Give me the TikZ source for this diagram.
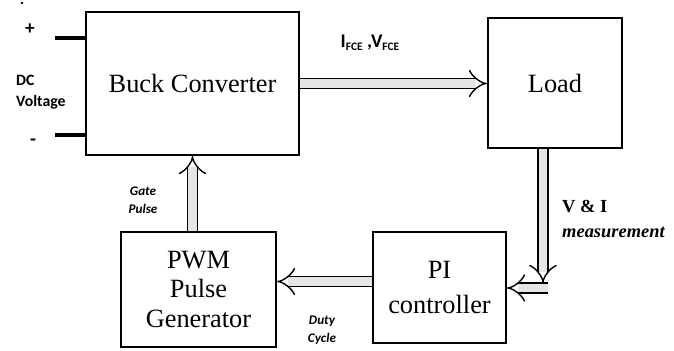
\documentclass[tikz,border=0pt]{standalone}
\usepackage{fontspec}
\setmainfont{Liberation Serif}
\setsansfont{Carlito}
\usepackage{tikz}
\usetikzlibrary{calc,positioning,arrows.meta}

\newcommand{\lowsub}[1]{\raisebox{-1.8pt}{\fontsize{6.5}{7}\selectfont #1}}

\tikzset{
  block/.style={draw, line width=1.2pt, inner sep=0pt, align=center, font=\fontsize{15}{17}\selectfont},
  flow/.style={draw=black, line width=0.8pt, double=gray!20, double distance=4.8pt, -{Implies}},
  term/.style={line width=2pt},
  tag/.style={font=\sffamily\bfseries\fontsize{9}{10}\selectfont, align=left},
  slant/.style={font=\sffamily\bfseries\itshape\fontsize{7.5}{10.5}\selectfont, align=center},
}

\begin{document}
\begin{tikzpicture}[x=0.02cm, y=-0.02cm]
        \useasboundingbox (0,0) rectangle (674,351);

        % Blocks
        \node[block, minimum width=4.26cm, minimum height=2.86cm] (buck) at (192.5,83.5) {Buck Converter};
        \node[block, minimum width=2.68cm, minimum height=2.6cm] (load) at (555,83) {Load};
        \node[block, minimum width=3.1cm, minimum height=2.3cm] (pwm) at (198.5,289.5) {PWM\\Pulse\\Generator};
        \node[block, minimum width=2.66cm, minimum height=2.22cm] (pi) at (439.5,287.5) {PI\\[3pt]controller};

        % DC input terminals
        \coordinate (vplus) at (55,38);
        \coordinate (vminus) at (55,135);
        \draw[term] (vplus) -- (vplus -| buck.west);
        \draw[term] (vminus) -- (vminus -| buck.west);
        \node[tag, font=\sffamily\bfseries\fontsize{11}{12}\selectfont] (plus) at (30,29) {+};
        \node[tag, anchor=west] (dc) at (10,92) {DC\\[2pt]Voltage};
        \node[tag, font=\sffamily\bfseries\fontsize{11}{12}\selectfont] (minus) at (33,142) {-};
        \fill (22,3) circle (0.8pt);

        % Signal flow
        \draw[flow] (buck.east) -- (load.west |- buck.east);
        \coordinate (meas) at (543,283);
        \draw[flow] (load.south -| meas) -- (meas);
        \coordinate (corner) at (548,288);
        \draw[flow] (corner) -- (pi.east |- corner);
        \coordinate (dutyin) at ($(pi.west)+(0,-6)$);
        \draw[flow] (dutyin) -- (pwm.east |- dutyin);
        \draw[flow] (pwm.north -| buck.south) -- (buck.south);

        % Signal labels
        \node[tag, font=\sffamily\bfseries\fontsize{11}{12}\selectfont] (ivfce) at (370,43) {I\lowsub{FCE} ,V\lowsub{FCE}};
        \node[anchor=west, font=\bfseries\fontsize{10.5}{12}\selectfont] (vandi) at (556,207) {V \& I};
        \node[anchor=west, font=\bfseries\itshape\fontsize{10.5}{12}\selectfont] (meastxt) at (556,232) {measurement};
        \node[slant] (gate) at (143,200) {Gate\\Pulse};
        \node[slant] (duty) at (322,330) {Duty\\Cycle};

    \end{tikzpicture}
\end{document}
